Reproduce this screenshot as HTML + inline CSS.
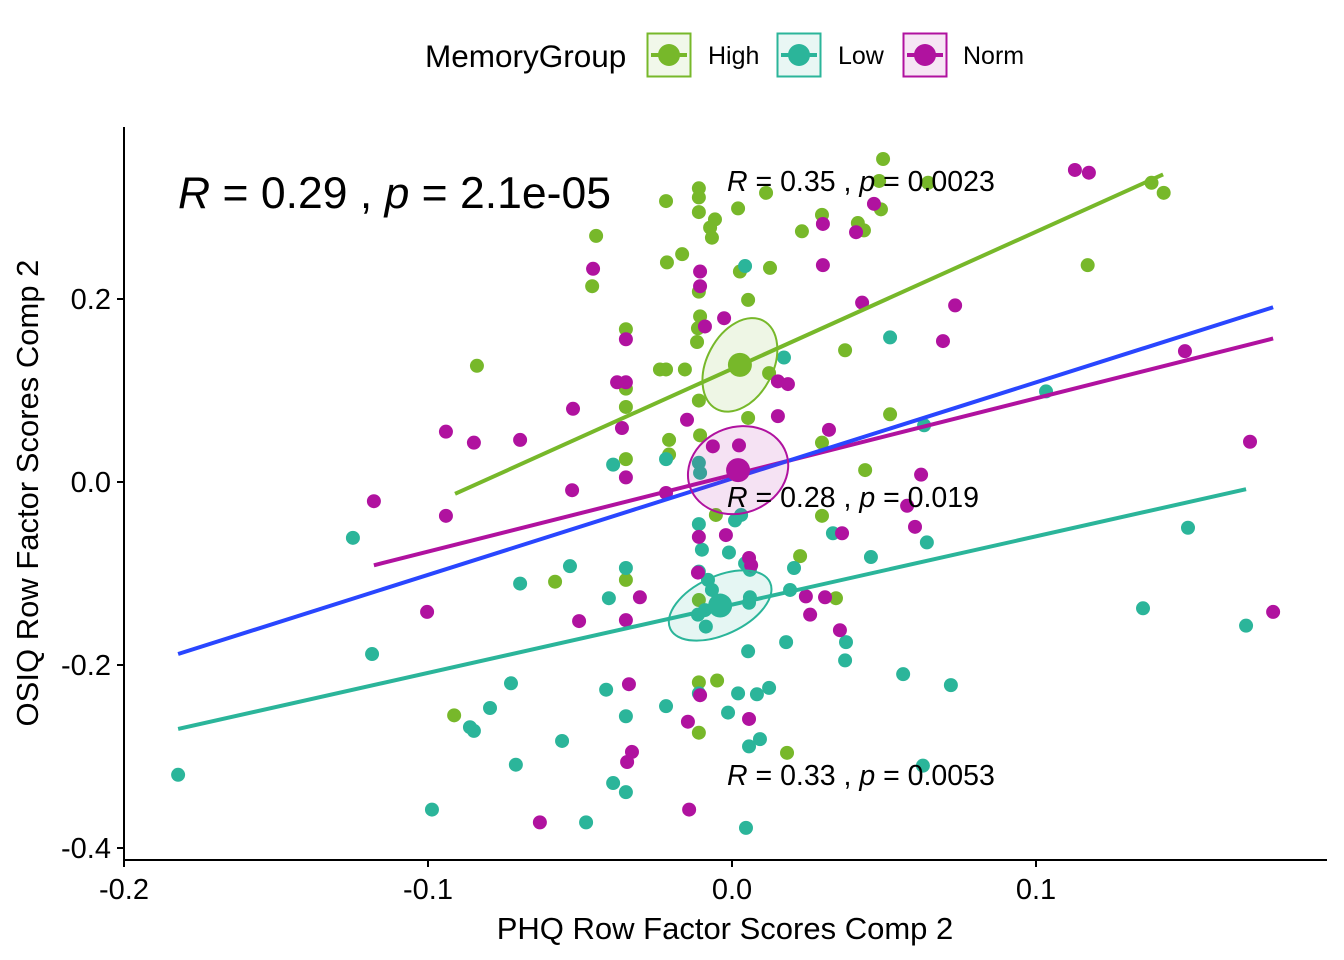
<!DOCTYPE html>
<html><head><meta charset="utf-8"><style>
body{margin:0;background:#fff}
svg{display:block;font-family:"Liberation Sans",Arial,sans-serif}
</style></head><body>
<svg id="chart" width="1344" height="960" xmlns="http://www.w3.org/2000/svg">
<g>
<text x="425" y="67" font-size="31.5">MemoryGroup</text>
<g>
<rect x="647.5" y="33.5" width="43" height="43" fill="#f1f8ea" stroke="#77b82a" stroke-width="2"/>
<line x1="651" y1="55" x2="687" y2="55" stroke="#77b82a" stroke-width="4"/>
<circle cx="669" cy="55" r="11" fill="#77b82a"/>
<text x="708" y="64" font-size="25">High</text></g>
<g>
<rect x="777.5" y="33.5" width="43" height="43" fill="#e9f7f4" stroke="#2bb59a" stroke-width="2"/>
<line x1="781" y1="55" x2="817" y2="55" stroke="#2bb59a" stroke-width="4"/>
<circle cx="799" cy="55" r="11" fill="#2bb59a"/>
<text x="838" y="64" font-size="25">Low</text></g>
<g>
<rect x="903.5" y="33.5" width="43" height="43" fill="#f6e6f4" stroke="#b0129f" stroke-width="2"/>
<line x1="907" y1="55" x2="943" y2="55" stroke="#b0129f" stroke-width="4"/>
<circle cx="925" cy="55" r="11" fill="#b0129f"/>
<text x="963" y="64" font-size="25">Norm</text></g>
</g>
<g id="plot"></g>
<line x1="124" y1="127" x2="124" y2="861" stroke="#000" stroke-width="2"/>
<line x1="123" y1="860" x2="1327" y2="860" stroke="#000" stroke-width="2"/>
<g id="ticks"></g>
<text x="725" y="939" font-size="31" text-anchor="middle">PHQ Row Factor Scores Comp 2</text>
<text transform="translate(38,493) rotate(-90)" font-size="31" text-anchor="middle">OSIQ Row Factor Scores Comp 2</text>
<text x="178" y="208" font-size="44.5"><tspan font-style="italic">R</tspan> = 0.29 , <tspan font-style="italic">p</tspan> = 2.1e-05</text>
<text x="727" y="191" font-size="28.5"><tspan font-style="italic">R</tspan> = 0.35 , <tspan font-style="italic">p</tspan> = 0.0023</text>
<text x="727" y="507" font-size="28.5"><tspan font-style="italic">R</tspan> = 0.28 , <tspan font-style="italic">p</tspan> = 0.019</text>
<text x="727" y="785" font-size="28.5"><tspan font-style="italic">R</tspan> = 0.33 , <tspan font-style="italic">p</tspan> = 0.0053</text>
</svg>
<script>
const xTicks=[-0.2,-0.1,0.0,0.1];
const xTickLabels=["-0.2","-0.1","0.0","0.1"];
const yTicks=[-0.4,-0.2,0.0,0.2];
const yTickLabels=["-0.4","-0.2","0.0","0.2"];
const highX=[0.0497,-0.0109,-0.0109,0.0112,0.002,-0.0217,-0.0056,-0.0109,0.0484,0.049,0.0296,0.023,0.0414,0.0434,-0.0072,-0.0066,-0.0447,-0.0164,-0.0214,0.0026,0.0125,-0.046,0.0053,-0.0109,-0.0349,-0.0105,-0.0112,-0.0115,-0.0839,-0.0237,-0.0217,-0.0155,-0.0349,-0.0349,0.0122,0.0372,-0.0109,0.0053,0.052,-0.0207,-0.0105,0.0296,-0.0349,-0.0207,0.0438,0.138,0.142,0.117,0.0645,-0.0053,0.0296,0.0224,-0.0582,-0.0349,0.0342,-0.0109,-0.0109,-0.0049,-0.0109,0.0181,-0.0914];
const highY=[0.353,0.321,0.311,0.316,0.299,0.307,0.287,0.295,0.329,0.298,0.292,0.274,0.283,0.275,0.278,0.267,0.269,0.249,0.240,0.230,0.234,0.214,0.199,0.208,0.167,0.181,0.168,0.153,0.127,0.123,0.123,0.123,0.102,0.082,0.119,0.144,0.089,0.070,0.074,0.046,0.051,0.043,0.025,0.030,0.013,0.327,0.316,0.237,0.327,-0.036,-0.037,-0.081,-0.109,-0.107,-0.127,-0.129,-0.219,-0.217,-0.274,-0.296,-0.255];
const lowX=[0.0043,0.0171,0.052,0.1033,0.0632,-0.0391,-0.0217,-0.0109,-0.0105,-0.1247,-0.0697,-0.0533,-0.0405,-0.0349,-0.0109,-0.0099,-0.001,0.0043,0.0059,0.003,0.001,0.0332,0.0457,0.0641,-0.0109,-0.0079,-0.0066,-0.0112,-0.0086,-0.0089,0.0059,0.0056,0.0191,0.0204,0.15,0.1352,0.1691,-0.1184,0.0053,0.0178,0.0375,0.0372,0.0563,0.072,0.0122,0.0082,0.002,-0.0349,-0.0414,-0.0796,-0.0727,-0.0109,-0.0013,-0.0217,-0.0391,-0.0349,0.0056,0.0092,-0.0711,-0.0862,-0.0849,-0.0559,-0.0987,-0.048,0.0046,0.0628,-0.1822];
const lowY=[0.236,0.136,0.158,0.099,0.062,0.019,0.025,0.021,0.010,-0.061,-0.111,-0.092,-0.127,-0.094,-0.046,-0.074,-0.077,-0.089,-0.096,-0.036,-0.042,-0.056,-0.082,-0.066,-0.098,-0.107,-0.118,-0.145,-0.158,-0.140,-0.126,-0.132,-0.118,-0.094,-0.050,-0.138,-0.157,-0.188,-0.185,-0.175,-0.175,-0.195,-0.210,-0.222,-0.225,-0.232,-0.231,-0.256,-0.227,-0.247,-0.220,-0.231,-0.252,-0.245,-0.329,-0.339,-0.289,-0.281,-0.309,-0.268,-0.272,-0.283,-0.358,-0.372,-0.378,-0.310,-0.320];
const normX=[0.1128,0.1174,0.0467,0.0408,0.0299,0.0299,-0.0105,-0.0105,-0.0457,0.0428,0.0734,-0.0026,-0.0089,-0.0349,0.0694,0.149,-0.0378,-0.0349,0.0151,0.0184,-0.0523,-0.0148,0.0151,-0.0941,-0.0849,-0.0697,-0.0362,0.0319,-0.0063,0.0023,-0.0349,-0.0217,-0.0526,-0.1178,-0.0941,0.1704,0.0622,0.0576,0.0602,0.0362,-0.002,-0.0109,0.0056,0.0063,-0.0112,-0.1003,-0.0503,-0.0349,-0.0303,0.0243,0.0306,0.0257,0.0355,0.178,-0.0339,-0.0145,-0.0105,0.0056,-0.0329,-0.0345,-0.0632,-0.0141];
const normY=[0.341,0.338,0.304,0.273,0.282,0.237,0.230,0.214,0.233,0.196,0.193,0.179,0.170,0.156,0.154,0.143,0.109,0.109,0.110,0.107,0.080,0.068,0.072,0.055,0.043,0.046,0.059,0.057,0.039,0.040,0.005,-0.012,-0.009,-0.021,-0.037,0.044,0.008,-0.026,-0.049,-0.056,-0.058,-0.060,-0.083,-0.091,-0.099,-0.142,-0.152,-0.151,-0.126,-0.125,-0.126,-0.145,-0.162,-0.142,-0.221,-0.262,-0.233,-0.259,-0.295,-0.306,-0.372,-0.358];
const groupNames=["high","low","norm"];
const groupColors=["#77b82a","#2bb59a","#b0129f"];
const groupFills=["rgba(119,184,42,0.12)","rgba(43,181,154,0.12)","rgba(176,18,159,0.12)"];
const meanX=[0.0026,-0.0039,0.002];
const meanY=[0.128,-0.135,0.013];
const fitSlope=[1.499,0.746,0.838];
const fitIntercept=[0.1236,-0.134,0.0077];
const fitXMin=[-0.0911,-0.1822,-0.1178];
const fitXMax=[0.1418,0.1691,0.178];
const overallSlope=1.052, overallIntercept=0.0037, overallXMin=-0.1822, overallXMax=0.178;

const NS="http://www.w3.org/2000/svg";
const sx=v=>732+v*3040;
const sy=v=>482-v*915;
const plot=document.getElementById('plot');
const ticks=document.getElementById('ticks');
function mk(tag,attrs,parent){const e=document.createElementNS(NS,tag);for(const k in attrs)e.setAttribute(k,attrs[k]);parent.appendChild(e);return e;}

xTicks.forEach((t,i)=>{
  const l=mk('line',{x1:sx(t),x2:sx(t),y1:860,y2:867,stroke:'#000','stroke-width':2},ticks);
  
  
  const tx=mk('text',{x:sx(t),y:899,'font-size':29,'text-anchor':'middle'},ticks);
  tx.textContent=xTickLabels[i];
  
  
});
yTicks.forEach((t,i)=>{
  const l=mk('line',{x1:117,x2:124,y1:sy(t),y2:sy(t),stroke:'#000','stroke-width':2},ticks);
  
  
  const tx=mk('text',{x:111,y:sy(t)+10,'font-size':29,'text-anchor':'end'},ticks);
  tx.textContent=yTickLabels[i];
  
  
});

const xs=[highX,lowX,normX], ys=[highY,lowY,normY];
[0,1,2].forEach(g=>{
  xs[g].forEach((x,i)=>{
    const c=mk('circle',{cx:sx(x),cy:sy(ys[g][i]),r:7,fill:groupColors[g]},plot);
    
    
  });
});
[0,1,2].forEach(g=>{
  const l=mk('line',{x1:sx(fitXMin[g]),y1:sy(fitIntercept[g]+fitSlope[g]*fitXMin[g]),x2:sx(fitXMax[g]),y2:sy(fitIntercept[g]+fitSlope[g]*fitXMax[g]),stroke:groupColors[g],'stroke-width':4},plot);
  
  
});
const ol=mk('line',{x1:sx(overallXMin),y1:sy(overallIntercept+overallSlope*overallXMin),x2:sx(overallXMax),y2:sy(overallIntercept+overallSlope*overallXMax),stroke:'#2946ff','stroke-width':4},plot);


const ellRx=[50,55,51], ellRy=[33,29,43], ellRot=[-62,-25,-20];
[0,1,2].forEach(g=>{
  const cx=sx(meanX[g]), cy=sy(meanY[g]);
  const e=mk('ellipse',{cx:cx,cy:cy,rx:ellRx[g],ry:ellRy[g],transform:`rotate(${ellRot[g]} ${cx} ${cy})`,fill:groupFills[g],stroke:groupColors[g],'stroke-width':2},plot);
  
  
  const m=mk('circle',{cx:cx,cy:cy,r:12,fill:groupColors[g]},plot);
  
  
});
</script>
</body></html>
